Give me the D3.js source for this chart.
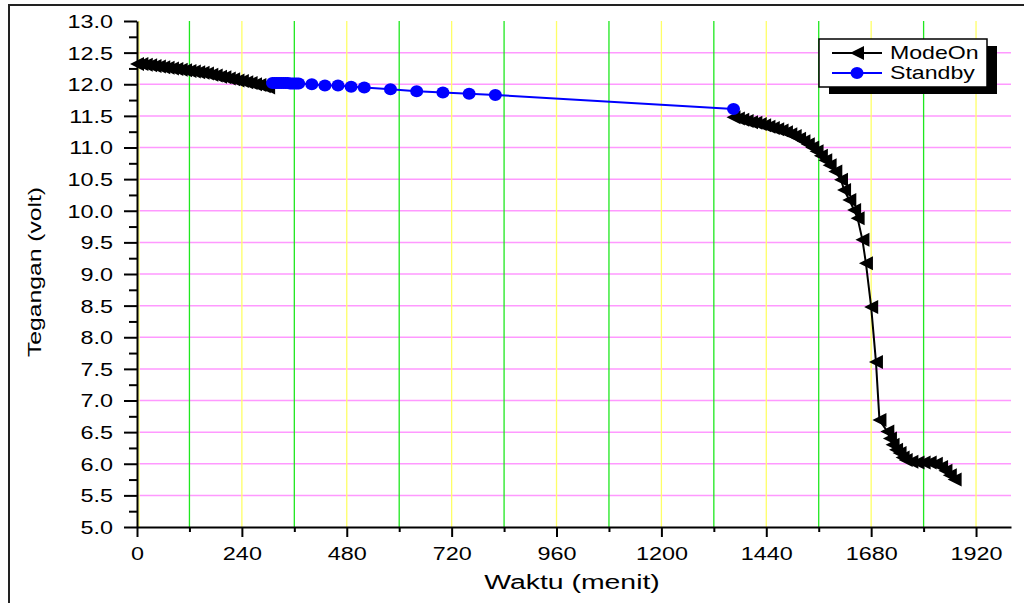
<!DOCTYPE html>
<html lang="en">
<head>
<meta charset="utf-8">
<title>Tegangan vs Waktu</title>
<style>
body { margin: 0; background: #fff; }
svg text { font-family: "Liberation Sans", Arial, sans-serif; fill: #000; }
</style>
</head>
<body>
<svg width="1024" height="603"></svg>
<script src="https://d3js.org/d3.v7.min.js"></script>
<script>
// ModeOn, bagian pertama (0 - 300 menit)
var modeOn1Time = [0,10,20,30,40,50,60,70,80,90,100,110,120,130,140,150,160,170,180,190,200,210,220,230,240,250,260,270,280,290,300];
var modeOn1Volt = [12.32,12.32,12.31,12.30,12.29,12.28,12.27,12.26,12.25,12.24,12.23,12.22,12.21,12.20,12.19,12.18,12.17,12.15,12.14,12.12,12.11,12.09,12.08,12.06,12.05,12.03,12.02,12.00,11.99,11.97,11.95];

// ModeOn, bagian kedua (setelah standby)
var modeOn2Time = [1365,1375,1385,1395,1405,1415,1425,1435,1445,1455,1465,1475,1485,1495,1505,1515,1525,1535,1545,1555,1565,1575,1585,1598,1611,1618,1630,1641,1649,1660,1668,1680,1691,1699,1717,1723,1729,1737,1745,1752,1759,1772,1786,1800,1814,1828,1840,1850,1860,1871];
var modeOn2Volt = [11.48,11.46,11.44,11.42,11.40,11.39,11.37,11.35,11.33,11.31,11.29,11.27,11.24,11.21,11.18,11.14,11.10,11.05,11.00,10.94,10.87,10.80,10.72,10.62,10.49,10.33,10.17,10.01,9.88,9.54,9.17,8.48,7.61,6.69,6.51,6.40,6.30,6.22,6.17,6.10,6.06,6.03,6.02,6.02,6.02,6.00,5.95,5.89,5.82,5.75];

// Standby
var standbyTime = [310,315,320,325,330,335,340,345,350,355,360,365,370,400,430,460,490,520,580,640,700,760,820,1365];
var standbyVolt = [12.02,12.02,12.02,12.02,12.02,12.02,12.02,12.02,12.01,12.01,12.01,12.01,12.01,12.00,11.98,11.98,11.96,11.95,11.92,11.89,11.87,11.85,11.83,11.61];

var xTicks = [0,240,480,720,960,1200,1440,1680,1920];
var xMinor = [120,360,600,840,1080,1320,1560,1800];
var yTicks = [5.0,5.5,6.0,6.5,7.0,7.5,8.0,8.5,9.0,9.5,10.0,10.5,11.0,11.5,12.0,12.5,13.0];
var yMinor = [5.25,5.75,6.25,6.75,7.25,7.75,8.25,8.75,9.25,9.75,10.25,10.75,11.25,11.75,12.25,12.75];

var seriesNames = ["ModeOn", "Standby"];

var svg = d3.select("svg");
var sx = 1.3; // teks asli tampak melebar

var x = d3.scaleLinear().domain([0, 2000]).range([137, 1011]);
var y = d3.scaleLinear().domain([5, 13]).range([527, 21]);

// bingkai luar
svg.append("path")
  .attr("d", "M9,603V5H1024")
  .attr("fill", "none")
  .attr("stroke", "#222")
  .attr("stroke-width", 2);

// grid
var grid = svg.append("g");
grid.selectAll(".gy")
  .data(yTicks.filter(d => d > 5 && d < 13))
  .enter().append("line")
  .attr("x1", x(0)).attr("x2", x(2000))
  .attr("y1", d => y(d)).attr("y2", d => y(d))
  .attr("stroke", "#ff99ff").attr("stroke-width", 1.5);
grid.selectAll(".gx1")
  .data(xMinor)
  .enter().append("line")
  .attr("x1", d => x(d)).attr("x2", d => x(d))
  .attr("y1", y(13)).attr("y2", y(5))
  .attr("stroke", "#1ee81e").attr("stroke-width", 1.3);
grid.selectAll(".gx2")
  .data(xTicks)
  .enter().append("line")
  .attr("x1", d => x(d) + (d === 0 ? 2 : 0)).attr("x2", d => x(d) + (d === 0 ? 2 : 0))
  .attr("y1", y(13)).attr("y2", y(5))
  .attr("stroke", "#ffff66").attr("stroke-width", 1.3);

// sumbu
var xAxis = svg.append("g").attr("transform", "translate(0," + y(5) + ")");
xAxis.append("g")
  .call(d3.axisBottom(x).tickValues(xMinor).tickSize(5).tickFormat(""))
  .call(g => g.select(".domain").remove());
xAxis.append("g")
  .call(d3.axisBottom(x).tickValues(xTicks).tickSize(10).tickSizeOuter(0).tickFormat(d3.format("d")))
  .call(g => g.selectAll("text")
    .attr("y", 33).attr("dy", 0)
    .attr("font-size", 18)
    .attr("transform", "scale(" + sx + ",1)"));

var yAxis = svg.append("g").attr("transform", "translate(" + x(0) + ",0)");
yAxis.append("g")
  .call(d3.axisLeft(y).tickValues(yMinor).tickSize(8).tickFormat(""))
  .call(g => g.select(".domain").remove());
yAxis.append("g")
  .call(d3.axisLeft(y).tickValues(yTicks).tickSize(13).tickSizeOuter(0).tickFormat(d3.format(".1f")))
  .call(g => g.selectAll("text")
    .attr("x", -24 / sx).attr("dy", "0.36em")
    .attr("font-size", 18)
    .attr("transform", "scale(" + sx + ",1)"));

svg.selectAll(".domain, .tick line").attr("stroke", "#000").attr("stroke-width", 2);
svg.selectAll(".tick text").attr("fill", "#000");

// judul sumbu
svg.append("text")
  .attr("transform", "translate(572,589) scale(1.42,1)")
  .attr("text-anchor", "middle")
  .attr("font-size", 20)
  .text("Waktu (menit)");
svg.append("text")
  .attr("transform", "translate(41,272) rotate(-90) scale(" + sx + ",1)")
  .attr("text-anchor", "middle")
  .attr("font-size", 19)
  .text("Tegangan (volt)");

// penanda
var triPath = "M-7,0L7,-7L7,7Z";

function drawSeries(times, volts, color, marker) {
  var idx = d3.range(times.length);
  var line = d3.line().x(i => x(times[i])).y(i => y(volts[i]));
  svg.append("path")
    .datum(idx)
    .attr("d", line)
    .attr("fill", "none")
    .attr("stroke", color)
    .attr("stroke-width", 2);
  var g = svg.append("g");
  if (marker === "tri") {
    g.selectAll("path").data(idx).enter().append("path")
      .attr("d", triPath)
      .attr("transform", i => "translate(" + x(times[i]) + "," + y(volts[i]) + ")")
      .attr("fill", color);
  } else {
    g.selectAll("ellipse").data(idx).enter().append("ellipse")
      .attr("cx", i => x(times[i])).attr("cy", i => y(volts[i]))
      .attr("rx", 6.5).attr("ry", 6)
      .attr("fill", color);
  }
}

drawSeries(modeOn1Time, modeOn1Volt, "#000", "tri");
drawSeries(modeOn2Time, modeOn2Volt, "#000", "tri");
drawSeries(standbyTime, standbyVolt, "#0000ff", "circle");

// legenda
var legend = svg.append("g");
legend.append("rect")
  .attr("x", 829).attr("y", 46).attr("width", 168).attr("height", 48)
  .attr("fill", "#000");
legend.append("rect")
  .attr("x", 819).attr("y", 39).attr("width", 168).attr("height", 48)
  .attr("fill", "#fff").attr("stroke", "#000").attr("stroke-width", 1.5);

var legColors = ["#000", "#0000ff"];
seriesNames.forEach(function(name, i) {
  var ly = 53 + i * 20;
  legend.append("line")
    .attr("x1", 832).attr("x2", 882).attr("y1", ly).attr("y2", ly)
    .attr("stroke", legColors[i]).attr("stroke-width", 2);
  if (i === 0) {
    legend.append("path").attr("d", triPath)
      .attr("transform", "translate(857," + ly + ")")
      .attr("fill", legColors[i]);
  } else {
    legend.append("ellipse").attr("cx", 857).attr("cy", ly)
      .attr("rx", 6.5).attr("ry", 6).attr("fill", legColors[i]);
  }
  legend.append("text")
    .attr("transform", "translate(890," + (ly + 6) + ") scale(1.25,1)")
    .attr("font-size", 18.5)
    .text(name);
});
</script>
</body>
</html>
